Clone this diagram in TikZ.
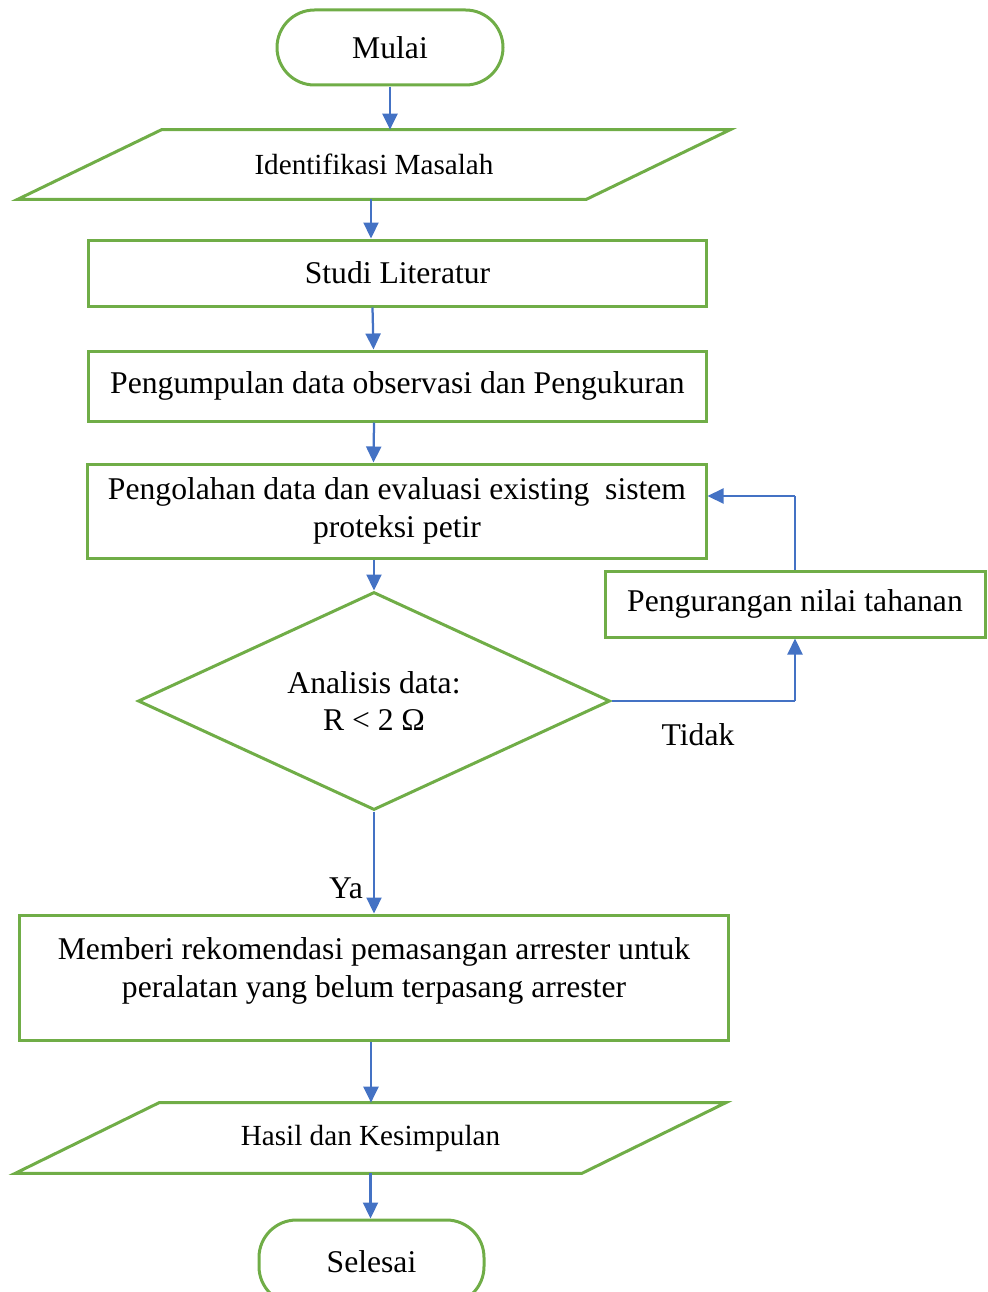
\documentclass[tikz,border=0pt]{standalone}
\usepackage{fontspec}
\setmainfont{Liberation Serif}
\usepackage{xcolor}
\usepackage{tikz}
\usetikzlibrary{arrows.meta,positioning,shapes.geometric}

\newcommand{\procfont}{\fontsize{18}{21.5}\selectfont}
\newcommand{\iofont}{\fontsize{16.6}{20}\selectfont}
\newcommand{\termfont}{\fontsize{18}{21.5}\selectfont}
% parallelogram round a text node
\newcommand{\slantbox}[1]{%
  \draw[draw=lgreen,line width=0.6mm] ([xshift=14.4mm]#1.north west) -- ([xshift=14.4mm]#1.north east)
    -- ([xshift=-14.4mm]#1.south east) -- ([xshift=-14.4mm]#1.south west) -- cycle;}

\begin{document}
\begin{tikzpicture}[x=0.2mm,y=-0.2mm]
\definecolor{lgreen}{HTML}{70AD47}
\definecolor{lblue}{HTML}{4472C4}
\tikzset{
  proc/.style={draw=lgreen,line width=0.6mm,align=center,inner sep=0pt,font=\procfont},
  term/.style={proc,rounded corners=7.5mm,font=\termfont},
  iotext/.style={align=center,inner sep=0pt,font=\iofont},
  decide/.style={proc,diamond,aspect=2.17},
  lbl/.style={font=\termfont,inner sep=0pt},
  flow/.style={draw=lblue,line width=0.45mm,-{Triangle[length=3.2mm,width=3mm]}},
  thinline/.style={draw=lblue,line width=0.3mm},
}
\useasboundingbox (0,0) rectangle (987,1292);

% Steps
\node[term,minimum width=45.2mm,minimum height=15mm] (mulai) at (390,47.5) {Mulai};
\node[iotext,minimum width=113.6mm,minimum height=13.8mm] (idm) at (374,164.5) {Identifikasi Masalah};
\slantbox{idm}
\node[proc,minimum width=123.4mm,minimum height=13.2mm] (studi) at (397.5,273) {Studi Literatur};
\node[proc,minimum width=123.4mm,minimum height=14mm] (kumpul) at (397.5,386) {Pengumpulan data observasi dan Pengukuran};
\node[proc,minimum width=123.6mm,minimum height=18.8mm] (olah) at (397,511)
  {Pengolahan data dan evaluasi existing\ \ sistem\\proteksi petir};
\node[decide,minimum width=94.4mm,minimum height=43.6mm] (cek) at (374,701) {Analisis data:\\R < 2 Ω};
\node[proc,minimum width=76mm,minimum height=13.2mm] (kurang) at (795,604) {Pengurangan nilai tahanan};
\node[proc,minimum width=141.6mm,minimum height=25mm] (beri) at (374,977.5)
  {Memberi rekomendasi pemasangan arrester untuk\\peralatan yang belum terpasang arrester\\[-3.6mm]};
\node[iotext,minimum width=113.2mm,minimum height=14mm] (hasil) at (370.5,1138) {Hasil dan Kesimpulan};
\slantbox{hasil}
\node[term,minimum width=45mm,minimum height=16.8mm] (selesai) at (371.5,1262) {Selesai};

% Flow
\draw[flow] (mulai.south) -- (mulai.south |- idm.north);
\draw[flow] ([xshift=-0.6mm]idm.south) -- ([xshift=-0.6mm]idm.south |- studi.north);
\draw[flow] ([xshift=-5mm]studi.south) -- ([xshift=-4.8mm]kumpul.north);
\draw[flow] ([xshift=-4.7mm]kumpul.south) -- ([xshift=-4.7mm]olah.north);
\draw[flow] (cek.north |- olah.south) -- (cek.north);
\draw[flow] (cek.south) -- (cek.south |- beri.north);
\draw[flow] ([xshift=-0.6mm]beri.south) -- ([xshift=-0.6mm]beri.south |- hasil.north);
\draw[flow] (hasil.south) -- (hasil.south |- selesai.north);

% Loop back
\coordinate (balik) at (796,496);
\draw[thinline] (cek.east) -- (cek.east -| kurang.south);
\draw[flow] (cek.east -| kurang.south) -- (kurang.south);
\draw[thinline] (kurang.north) -- (kurang.north |- balik);
\draw[flow] (kurang.north |- balik) -- (balik -| olah.east);

\node[lbl] (ya) at (346,888) {Ya};
\node[lbl] (tidak) at (698,735) {Tidak};
\end{tikzpicture}
\end{document}
